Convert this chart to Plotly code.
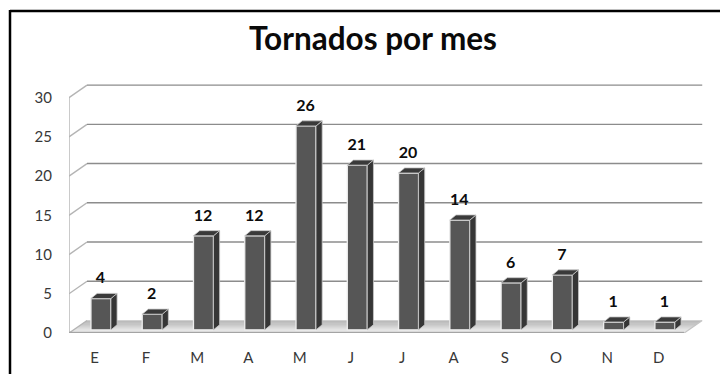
import plotly.graph_objects as go

# Monthly tornado counts
months = ["E", "F", "M", "A", "M", "J", "J", "A", "S", "O", "N", "D"]
counts = [4, 2, 12, 12, 26, 21, 20, 14, 6, 7, 1, 1]
y_ticks = [0, 5, 10, 15, 20, 25, 30]

WIDTH, HEIGHT = 720, 374
LEFT, RIGHT, TOP, BOTTOM = 69, 5, 82, 41
X_RANGE = [-0.5, 12.1]
Y_RANGE = [0, 32]

# Depth of the pseudo-3D floor and of each column, in axis units
FLOOR_DX, FLOOR_DY = 0.351, 1.6
BAR_DX, BAR_DY = 0.12, 0.65
BAR_WIDTH, BAR_SHIFT, BAR_LIFT = 0.39, 0.123, 0.4
LAST_EDGE = len(months) - 0.5
FIRST_EDGE = -0.5


def px_x(p):
    return (p - LEFT) / (WIDTH - LEFT - RIGHT)


def px_y(p):
    return 1 - (p - TOP) / (HEIGHT - TOP - BOTTOM)


shapes = []

# Floor, shaded front to back in narrow strips
strips = 12
for k in range(strips):
    a, b = k / strips, (k + 1) / strips
    level = int(244 - 90 * a)
    shapes.append(dict(
        type="path", layer="below", xref="x", yref="y", line_width=0,
        fillcolor=f"rgb({level},{level},{level})",
        path=(f"M {FIRST_EDGE + FLOOR_DX * a} {FLOOR_DY * a} "
              f"L {LAST_EDGE + FLOOR_DX * a} {FLOOR_DY * a} "
              f"L {LAST_EDGE + FLOOR_DX * b} {FLOOR_DY * b} "
              f"L {FIRST_EDGE + FLOOR_DX * b} {FLOOR_DY * b} Z"),
    ))

# Gridlines: a diagonal on the side wall, then the run along the back wall
for t in y_ticks:
    shapes.append(dict(type="line", layer="below", xref="x", yref="y",
                       x0=FIRST_EDGE, y0=t, x1=FIRST_EDGE + FLOOR_DX, y1=t + FLOOR_DY,
                       line=dict(color="#b4b4b4", width=1.4)))
    if t > 0:
        shapes.append(dict(type="line", layer="below", xref="x", yref="y",
                           x0=FIRST_EDGE + FLOOR_DX, y0=t + FLOOR_DY,
                           x1=LAST_EDGE + FLOOR_DX, y1=t + FLOOR_DY,
                           line=dict(color="#8c8c8c", width=1.4)))

# Side wall edge and front edge of the floor
shapes.append(dict(type="line", layer="below", xref="x", yref="y",
                   x0=FIRST_EDGE, y0=0, x1=FIRST_EDGE, y1=y_ticks[-1],
                   line=dict(color="#b4b4b4", width=1.4)))
shapes.append(dict(type="line", layer="below", xref="x", yref="y",
                   x0=FIRST_EDGE, y0=0, x1=LAST_EDGE, y1=0,
                   line=dict(color="#a4a4a4", width=2.4)))
shapes.append(dict(type="line", layer="below", xref="x", yref="y",
                   x0=LAST_EDGE, y0=0, x1=LAST_EDGE + FLOOR_DX, y1=FLOOR_DY,
                   line=dict(color="#c4c4c4", width=1.2)))

# Black frame along the top and left of the page
shapes.append(dict(type="line", xref="paper", yref="paper", layer="above",
                   x0=px_x(10), x1=px_x(720), y0=px_y(11), y1=px_y(11),
                   line=dict(color="#000000", width=2.5)))
shapes.append(dict(type="line", xref="paper", yref="paper", layer="above",
                   x0=px_x(10), x1=px_x(10), y0=px_y(10), y1=px_y(374),
                   line=dict(color="#000000", width=2.5)))

# Side and top faces of the columns
side_x, side_y, top_x, top_y = [], [], [], []
for i, v in enumerate(counts):
    x1 = i + BAR_SHIFT + BAR_WIDTH / 2
    x0 = x1 - BAR_WIDTH
    y1 = v + BAR_LIFT
    side_x += [x1, x1 + BAR_DX, x1 + BAR_DX, x1, x1, None]
    side_y += [BAR_LIFT, BAR_LIFT + BAR_DY, y1 + BAR_DY, y1, BAR_LIFT, None]
    top_x += [x0, x1, x1 + BAR_DX, x0 + BAR_DX, x0, None]
    top_y += [y1, y1, y1 + BAR_DY, y1 + BAR_DY, y1, None]

fig = go.Figure()

fig.add_trace(go.Bar(
    x=list(range(len(months))), y=counts, base=BAR_LIFT,
    width=BAR_WIDTH, offset=BAR_SHIFT - BAR_WIDTH / 2,
    marker=dict(color="#565656", line=dict(color="#eeeeee", width=1.3)),
    hoverinfo="skip",
))
fig.add_trace(go.Scatter(
    x=side_x, y=side_y, mode="lines", fill="toself", fillcolor="#363636",
    line=dict(color="#c8c8c8", width=0.8), hoverinfo="skip",
))
fig.add_trace(go.Scatter(
    x=top_x, y=top_y, mode="lines", fill="toself", fillcolor="#3a3a3a",
    line=dict(color="#c8c8c8", width=0.8), hoverinfo="skip",
))

# Value labels above each column
fig.add_trace(go.Scatter(
    x=[i + BAR_SHIFT - 0.01 for i in range(len(months))],
    y=[v + BAR_LIFT + 2.45 for v in counts],
    mode="text", text=[str(v) for v in counts], textposition="middle center",
    textfont=dict(family="Lato", size=16, color="#0c0c0c", weight="bold"),
    hoverinfo="skip",
))

fig.update_layout(
    width=WIDTH, height=HEIGHT,
    margin=dict(l=LEFT, r=RIGHT, t=TOP, b=BOTTOM),
    paper_bgcolor="#ffffff", plot_bgcolor="#ffffff",
    showlegend=False, shapes=shapes,
    title=dict(
        text="Tornados por mes", x=373 / WIDTH, xanchor="center",
        y=1 - 39 / HEIGHT, yanchor="middle",
        font=dict(family="Lato", size=31.5, color="#0a0a0a", weight="bold"),
    ),
    xaxis=dict(
        range=X_RANGE, tickmode="array", tickvals=list(range(len(months))),
        ticktext=months, showgrid=False, zeroline=False, showline=False,
        ticks="", ticklabelstandoff=14,
        tickfont=dict(family="Lato", size=15, color="#383838"),
    ),
    yaxis=dict(
        range=Y_RANGE, tickmode="array", tickvals=y_ticks,
        showgrid=False, zeroline=False, showline=False,
        ticks="", ticklabelstandoff=16,
        tickfont=dict(family="Lato", size=15, color="#383838"),
    ),
)

fig.write_html("out.html")
